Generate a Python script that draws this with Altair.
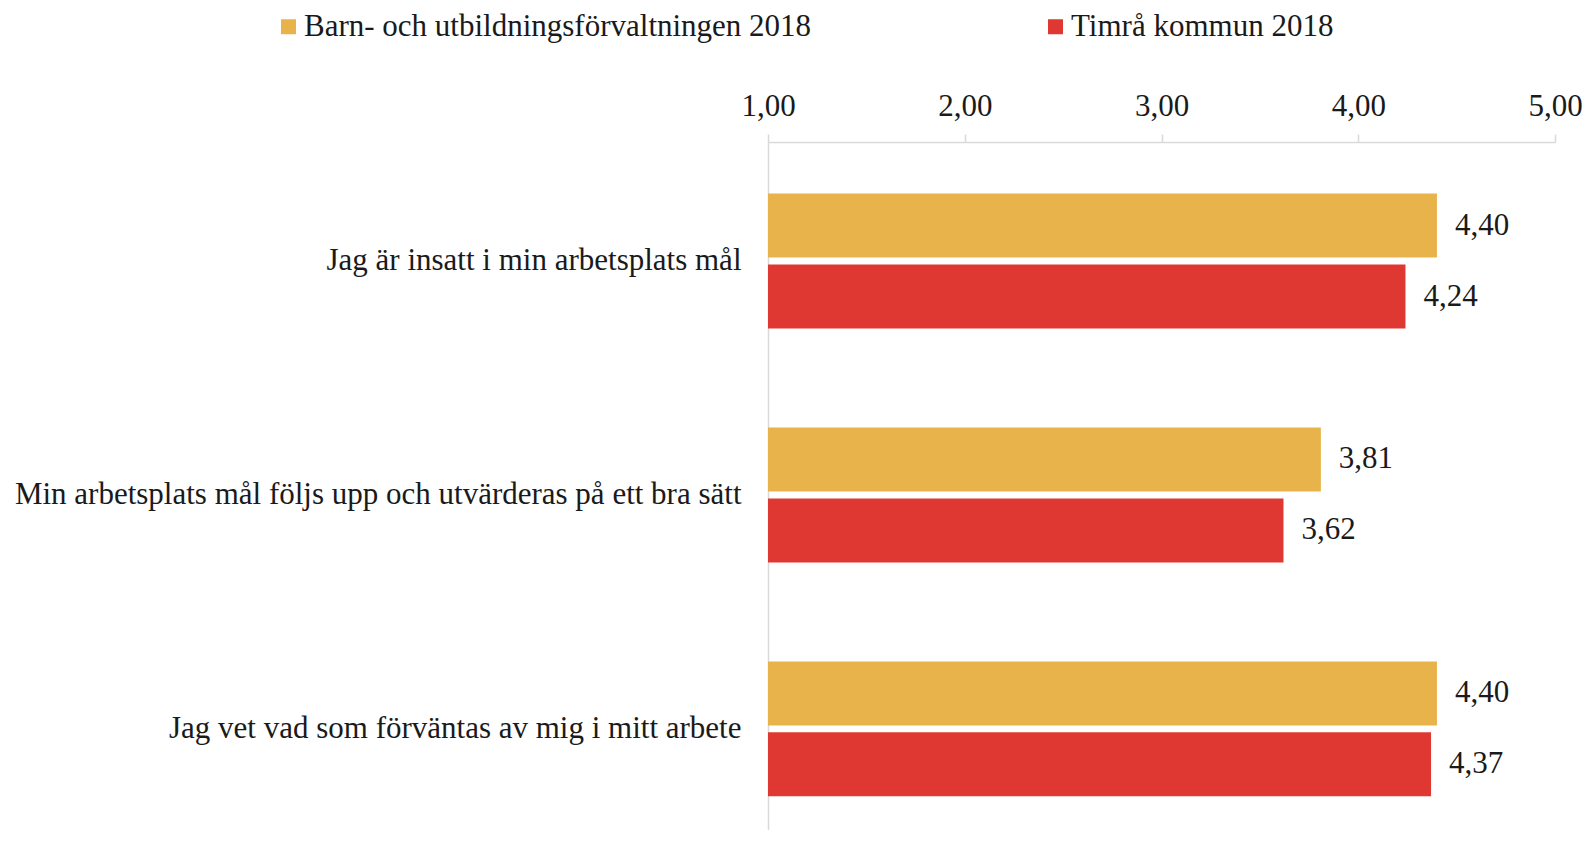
import altair as alt
import pandas as pd

categories = [
    "Jag är insatt i min arbetsplats mål",
    "Min arbetsplats mål följs upp och utvärderas på ett bra sätt",
    "Jag vet vad som förväntas av mig i mitt arbete",
]
series = ["Barn- och utbildningsförvaltningen 2018", "Timrå kommun 2018"]
values_buf = [4.40, 3.81, 4.40]
values_timra = [4.24, 3.62, 4.37]
colors = ["#E8B34A", "#DF3832"]
axis_min = 1

rows = []
for c, a, b in zip(categories, values_buf, values_timra):
    rows.append({"category": c, "series": series[0], "value": a})
    rows.append({"category": c, "series": series[1], "value": b})
df = pd.DataFrame(rows)

FONT = "Liberation Serif"
FS = 31
TXT = "#1a1a1a"

y_enc = alt.Y(
    "category:N",
    sort=categories,
    title=None,
    scale=alt.Scale(paddingInner=0.423, paddingOuter=0.182, align=0.605),
    axis=alt.Axis(
        ticks=False,
        domainColor="#d9d9d9",
        domainWidth=1.5,
        labelFont=FONT,
        labelFontSize=FS,
        labelColor=TXT,
        labelPadding=27,
        labelLimit=800,
    ),
)
yoff = alt.YOffset("series:N", sort=series, scale=alt.Scale(paddingInner=0.0986, paddingOuter=0))
x_enc = alt.X(
    "value:Q",
    title=None,
    scale=alt.Scale(domain=[1, 5], zero=False, nice=False),
    axis=alt.Axis(
        orient="top",
        values=[1, 2, 3, 4, 5],
        labelExpr="replace(format(datum.value, '.2f'), '.', ',')",
        labelFlush=False,
        grid=False,
        domainColor="#d9d9d9",
        domainWidth=1.5,
        tickColor="#d9d9d9",
        tickWidth=1.5,
        tickSize=8,
        labelFont=FONT,
        labelFontSize=FS,
        labelColor=TXT,
        labelPadding=12,
    ),
)

base = alt.Chart(df).transform_calculate(
    label="replace(format(datum.value, '.2f'), '.', ',')"
)

bars = base.mark_bar().encode(
    x=x_enc,
    x2=alt.datum(axis_min),
    y=y_enc,
    yOffset=yoff,
    color=alt.Color(
        "series:N",
        sort=series,
        scale=alt.Scale(domain=series, range=colors),
        legend=alt.Legend(
            title=None,
            orient="none",
            direction="horizontal",
            legendX=-495,
            legendY=-131,
            symbolType="square",
            symbolSize=225,
            symbolStrokeWidth=0,
            labelFont=FONT,
            labelFontSize=FS,
            labelColor=TXT,
            labelLimit=1000,
            labelOffset=0,
            columnPadding=228,
            padding=0,
        ),
    ),
)

texts = base.mark_text(
    align="left", baseline="middle", dx=18, font=FONT, fontSize=FS, color=TXT
).encode(
    x=alt.X("value:Q"),
    y=alt.Y("category:N", sort=categories),
    yOffset=alt.YOffset("series:N", sort=series),
    text="label:N",
)

chart = (
    alt.layer(bars, texts)
    .properties(
        width=787,
        height=688,
        autosize=alt.AutoSizeParams(type="none"),
        padding={"left": 760, "top": 134, "right": 30, "bottom": 0},
    )
    .configure_view(stroke=None)
)

chart.save("out.html", embed_options={"renderer": "svg", "actions": False})
